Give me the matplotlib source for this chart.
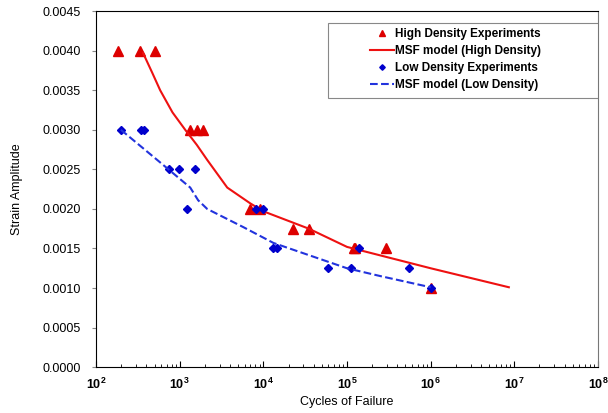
import matplotlib.pyplot as plt
from matplotlib.patches import Rectangle
from matplotlib.ticker import LogLocator, FixedLocator

plt.rcParams['font.family'] = ['Liberation Sans', 'DejaVu Sans']

# experiments (cycles, strain)
high_n = [183, 336, 509, 1336, 1620, 1910, 6980, 9200, 22900, 34800,
          120000, 125000, 295000, 1000000]
high_s = [0.0040, 0.0040, 0.0040, 0.0030, 0.0030, 0.0030, 0.0020, 0.0020,
          0.00175, 0.00175, 0.0015, 0.0015, 0.0015, 0.0010]
low_n = [198, 345, 376, 748, 986, 1535, 1230, 8240, 9800, 13200, 14700,
         138000, 59000, 113000, 550000, 1000000]
low_s = [0.0030, 0.0030, 0.0030, 0.0025, 0.0025, 0.0025, 0.0020, 0.0020,
         0.0020, 0.0015, 0.0015, 0.0015, 0.00125, 0.00125, 0.00125, 0.0010]

# MSF model curves
msf_high_n = [365, 470, 584, 820, 1164, 1600, 2130, 3700, 6980, 10000,
              35000, 100000, 600000, 1000000, 8600000]
msf_high_s = [0.00397, 0.00372, 0.0035, 0.00322, 0.0030, 0.00281, 0.00262,
              0.00227, 0.00207, 0.00197, 0.00175, 0.00152, 0.00131, 0.00125,
              0.00101]
msf_low_n = [198, 537, 1336, 1660, 2130, 5760, 13200, 100000, 253000, 1000000]
msf_low_s = [0.0030, 0.00262, 0.00227, 0.00211, 0.0020, 0.00177, 0.00157,
             0.00125, 0.00115, 0.00101]

fig = plt.figure(figsize=(6.08, 4.13), dpi=100)
ax = fig.add_axes([0.158, 0.111, 0.8255, 0.862])

ax.plot(high_n, high_s, '^', color='#dd0000', markersize=7, linestyle='none',
        label='High Density Experiments')
ax.plot(msf_high_n, msf_high_s, '-', color='#ee1111', lw=1.5,
        label='MSF model (High Density)')
ax.plot(low_n, low_s, 'D', color='#0000cc', markersize=4, linestyle='none',
        label='Low Density Experiments')
ax.plot(msf_low_n, msf_low_s, '--', color='#2233dd', lw=1.5,
        label='MSF model (Low Density)')

ax.set_xscale('log')
ax.set_xlim(1e2, 1e8)
ax.set_ylim(0, 0.0045)
ax.yaxis.set_major_locator(FixedLocator([i * 0.0005 for i in range(10)]))
ax.yaxis.set_major_formatter(plt.FuncFormatter(lambda v, p: f'{v:.4f}'))
ax.xaxis.set_major_locator(LogLocator(base=10, numticks=10))
ax.xaxis.set_minor_locator(LogLocator(base=10, subs=range(2, 10), numticks=20))

ax.tick_params(axis='y', direction='out', length=3, labelsize=9,
               color='#888888', pad=8)
ax.tick_params(axis='x', which='major', direction='in', length=4, labelsize=9,
               pad=7)
ax.tick_params(axis='x', which='minor', direction='in', length=2)
for t in ax.get_xticklabels():
    t.set_fontweight('bold')

for s in ['left', 'bottom', 'top']:
    ax.spines[s].set_color('black')
ax.spines['right'].set_color('#777777')
ax.spines['right'].set_linewidth(0.8)

ax.set_xlabel('Cycles of Failure', fontsize=9)
ax.set_ylabel('Strain Amplitude', fontsize=9)
ax.xaxis.set_label_coords(0.5, -0.081)
ax.yaxis.set_label_coords(-0.146, 0.5)

# legend box drawn by hand, legend entries without frame
ax.add_patch(Rectangle((0.462, 0.756), 0.538, 0.21, transform=ax.transAxes,
                       fill=True, facecolor='white', edgecolor='#888888',
                       lw=0.8, zorder=4))
leg = ax.legend(loc='upper left', bbox_to_anchor=(0.546, 0.953),
                frameon=False, handlelength=2.0, handletextpad=0.15,
                borderpad=0, borderaxespad=0, labelspacing=0.42,
                markerscale=0.7, prop={'weight': 'bold', 'size': 8.5})
leg.set_zorder(5)

fig.savefig('out.png', dpi=100)
